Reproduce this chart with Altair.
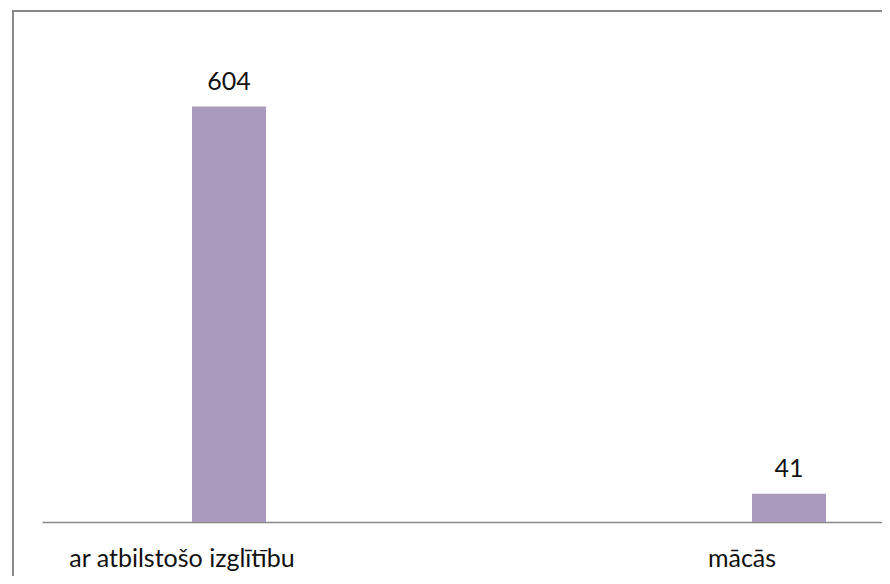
import altair as alt
import pandas as pd

categories = ["ar atbilstošo izglītību", "mācās"]
values = [604, 41]
axis_slots = ["ar atbilstošo izglītību", " ", "mācās"]

df = pd.DataFrame({"cat": categories, "val": values})

FONT = "Lato"
BAR = "#A99BBD"
GRAY = "#888888"

x = alt.X("cat:N", scale=alt.Scale(domain=axis_slots, paddingInner=0, paddingOuter=0),
          sort=axis_slots,
          axis=alt.Axis(title=None, labelAngle=0, ticks=False, labelPadding=44,
                        labelBaseline="alphabetic", labelFont=FONT, labelFontSize=25,
                        labelLimit=0, labelColor="#111111", domainColor=GRAY,
                        domainWidth=1.5, grid=False))
y = alt.Y("val:Q", scale=alt.Scale(domain=[0, 743], nice=False), axis=None)

base = alt.Chart(df)
bars = base.mark_bar(size=74, xOffset=47, color=BAR).encode(x=x, y=y)
labels = base.mark_text(xOffset=47, dy=-17, baseline="alphabetic", font=FONT,
                        fontSize=25, color="#111111").encode(x=x, y=y, text="val:Q")

frame_data = alt.Data(values=[{"a": 1}])
top_line = alt.Chart(frame_data).mark_rule(color=GRAY, strokeWidth=2).encode(
    x=alt.value(-30), x2=alt.value(840), y=alt.value(0))
left_line = alt.Chart(frame_data).mark_rule(color=GRAY, strokeWidth=2).encode(
    x=alt.value(-29), y=alt.value(-1), y2=alt.value(565))

chart = alt.layer(top_line, left_line, bars, labels).properties(
    width=840, height=511,
    autosize=alt.AutoSizeParams(type="none"),
    padding={"left": 34, "top": 3, "right": 0, "bottom": 54},
).configure_view(stroke=None)

chart.save("out.html", embed_options={"renderer": "svg", "actions": False})
